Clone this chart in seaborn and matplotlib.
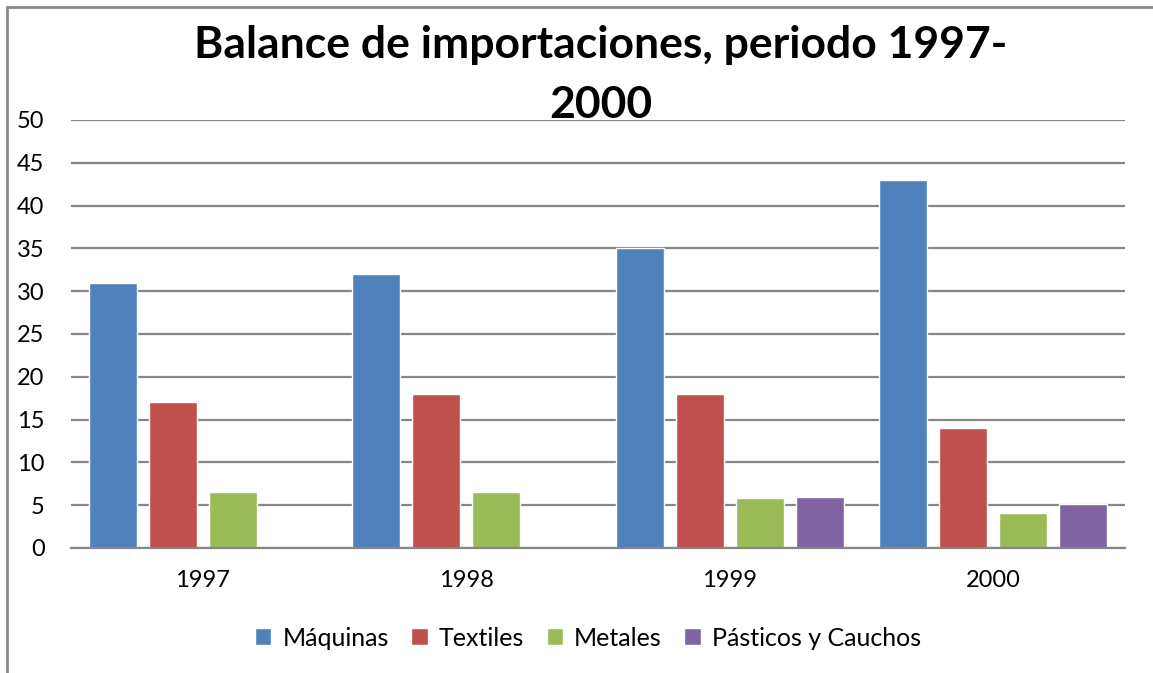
import numpy as np
import pandas as pd
import matplotlib
matplotlib.use("Agg")
import matplotlib.pyplot as plt
import seaborn as sns
from matplotlib.patches import Rectangle

years = ["1997", "1998", "1999", "2000"]
maquinas = [31, 32, 35, 43]
textiles = [17, 18, 18, 14]
metales = [6.5, 6.6, 5.8, 4.1]
plasticos = [np.nan, np.nan, 5.9, 5.1]
series_names = ["Máquinas", "Textiles", "Metales", "Pásticos y Cauchos"]
colors = ["#4F81BD", "#C0504D", "#9BBB59", "#8064A2"]

rows = []
for name, vals in zip(series_names, [maquinas, textiles, metales, plasticos]):
    for y, v in zip(years, vals):
        rows.append({"year": y, "serie": name, "valor": v})
df = pd.DataFrame(rows)

sns.set_style("white")
plt.rcParams["font.family"] = ["Lato", "DejaVu Sans"]
plt.rcParams["text.color"] = "black"
plt.rcParams["xtick.color"] = "black"
plt.rcParams["ytick.color"] = "black"

W, H = 1153, 673
fig = plt.figure(figsize=(W / 100, H / 100), dpi=100)
ax = fig.add_axes([71 / W, 1 - 548 / H, (1125 - 71) / W, (548 - 120) / H])

sns.barplot(data=df, x="year", y="valor", hue="serie", order=years,
            hue_order=series_names, palette=colors, width=0.911, gap=0.2,
            saturation=1, ax=ax, legend=True)

ax.set_ylim(0, 50)
ax.set_yticks(range(0, 51, 5))
ax.set_xlim(-0.5, 3.5)
ax.yaxis.grid(True, color="#868686", linewidth=1.6)
ax.set_axisbelow(True)
for s in ["top", "right", "left"]:
    ax.spines[s].set_visible(False)
ax.spines["bottom"].set_color("#868686")
ax.spines["bottom"].set_linewidth(1.6)
ax.tick_params(axis="y", length=0, pad=19, labelsize=17)
ax.tick_params(axis="x", length=0, pad=16, labelsize=17)
ax.set_xlabel("")
ax.set_ylabel("")

handles, labels = ax.get_legend_handles_labels()
ax.legend_.remove()
fig.legend(handles, labels, loc="center", bbox_to_anchor=(588 / W, 1 - 638 / H),
           ncol=4, frameon=False, fontsize=18, handlelength=0.65, handleheight=0.65,
           handletextpad=0.45, columnspacing=0.9)

fig.text(601 / W, 1 - 25 / H, "Balance de importaciones, periodo 1997-\n2000",
         ha="center", va="top", fontsize=32, fontweight="bold", linespacing=1.6)

# marco del gráfico
fig.add_artist(Rectangle((7 / W, -0.1), 1.2, 1.1 - 7 / H, transform=fig.transFigure,
                         fill=False, edgecolor="#888888", linewidth=2))

fig.savefig("out.png", dpi=100)
